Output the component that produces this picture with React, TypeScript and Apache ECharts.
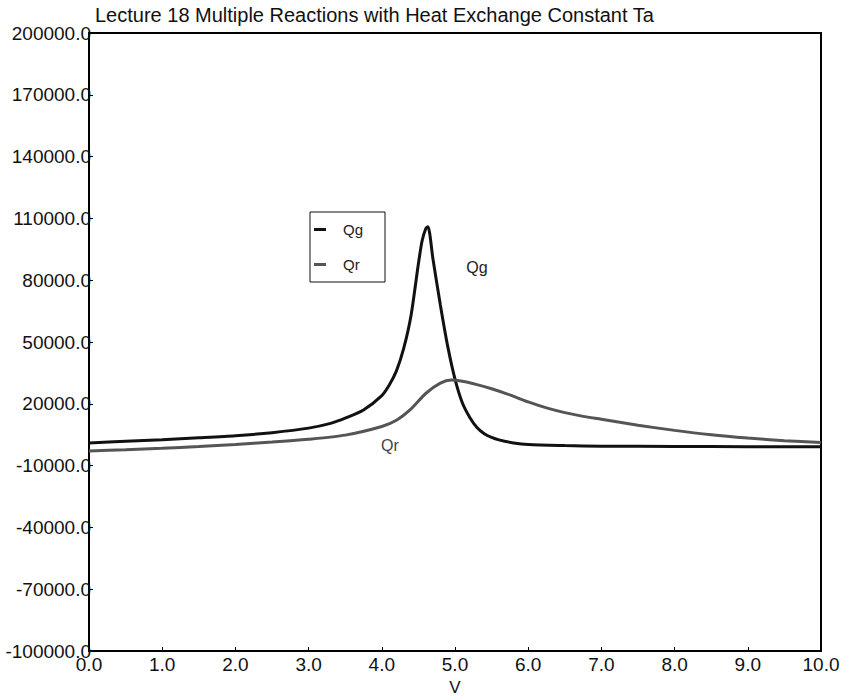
import React, { useEffect, useRef } from "react";
import * as echarts from "echarts";

const titleText = "Lecture 18 Multiple Reactions with Heat Exchange Constant Ta";
const xTicks = [0, 1, 2, 3, 4, 5, 6, 7, 8, 9, 10];
const yTicks = [-100000, -70000, -40000, -10000, 20000, 50000, 80000, 110000, 140000, 170000, 200000];

const qgV = [0, 0.5, 1.0, 1.5, 2.0, 2.5, 3.0, 3.3, 3.5, 3.75, 4.0, 4.1, 4.2, 4.3, 4.4, 4.5, 4.55, 4.6, 4.63, 4.7, 4.8, 4.9, 5.0, 5.1, 5.2, 5.3, 5.4, 5.5, 5.6, 5.8, 6.0, 6.5, 7.0, 8.0, 9.0, 10.0];
const qgVal = [1000, 1800, 2600, 3500, 4500, 6000, 8200, 10500, 13000, 17000, 24000, 29000, 36000, 47000, 63000, 88000, 99000, 105000, 106000, 90000, 68000, 48000, 32000, 20500, 13500, 8500, 5500, 3700, 2500, 1000, 200, -300, -600, -700, -800, -800];

const qrV = [0, 0.5, 1.0, 1.5, 2.0, 2.5, 3.0, 3.5, 4.0, 4.2, 4.4, 4.6, 4.8, 4.95, 5.1, 5.3, 5.5, 5.75, 6.0, 6.25, 6.5, 6.75, 7.0, 7.5, 8.0, 8.5, 9.0, 9.5, 10.0];
const qrVal = [-2900, -2300, -1600, -700, 300, 1400, 2800, 4800, 9000, 12000, 17500, 25000, 30000, 31500, 30900, 29300, 27300, 24300, 20900, 18000, 15700, 13900, 12500, 9600, 7100, 5000, 3400, 2100, 1200];

const qgLabelAt = [5.3, 86000];
const qrLabelAt = [4.11, 0];

const FONT = "Liberation Sans, Arial, sans-serif";

export default function App() {
  const ref = useRef<HTMLDivElement>(null);
  useEffect(() => {
    if (!ref.current) return;
    const chart = echarts.init(ref.current, null, { renderer: "svg" });
    const lbl = (name: string, at: number[], color: string) => ({
      symbol: "circle",
      symbolSize: 0,
      label: { show: true, formatter: name, position: "inside", color, fontSize: 16, fontFamily: FONT },
      itemStyle: { color: "transparent" },
      data: [{ coord: at, value: name }],
    });
    chart.setOption({
      animation: false,
      backgroundColor: "#fff",
      title: {
        text: titleText,
        left: 90,
        top: 0,
        textStyle: { fontSize: 20, fontWeight: "normal", color: "#111", fontFamily: FONT },
      },
      legend: {
        left: 310,
        top: 212,
        orient: "vertical",
        borderColor: "#111",
        borderWidth: 1,
        padding: [10, 22, 10, 4],
        itemWidth: 12,
        itemHeight: 3,
        itemGap: 20,
        icon: "rect",
        textStyle: { fontSize: 15, color: "#222", fontFamily: FONT, padding: [0, 0, 0, 12] },
        data: ["Qg", "Qr"],
      },
      grid: {
        left: 89,
        right: 30,
        top: 33,
        bottom: 49,
        show: true,
        borderColor: "#000",
        borderWidth: 2,
        backgroundColor: "transparent",
        containLabel: false,
        outerBoundsMode: "none",
      },
      xAxis: {
        type: "value",
        min: 0,
        max: 10,
        name: "V",
        nameLocation: "middle",
        nameGap: 27,
        nameTextStyle: { fontSize: 17, color: "#111", fontFamily: FONT },
        axisLine: { show: true, onZero: false, lineStyle: { color: "#000", width: 2 } },
        axisTick: { show: true, inside: true, length: 4, customValues: xTicks, lineStyle: { color: "#000" } },
        axisLabel: {
          customValues: xTicks,
          formatter: (v: number) => v.toFixed(1),
          fontSize: 19,
          color: "#111",
          fontFamily: FONT,
          margin: 4,
        },
        splitLine: { show: false },
      },
      yAxis: {
        type: "value",
        min: -100000,
        max: 200000,
        axisLine: { show: true, onZero: false, lineStyle: { color: "#000", width: 2 } },
        axisTick: { show: true, inside: true, length: 4, customValues: yTicks, lineStyle: { color: "#000" } },
        axisLabel: {
          customValues: yTicks,
          formatter: (v: number) => v.toFixed(1),
          fontSize: 19,
          color: "#111",
          fontFamily: FONT,
          margin: -2,
        },
        splitLine: { show: false },
      },
      series: [
        {
          name: "Qg",
          type: "line",
          data: qgV.map((v, i) => [v, qgVal[i]]),
          showSymbol: false,
          smooth: 0.25,
          lineStyle: { color: "#111", width: 3 },
          itemStyle: { color: "#111" },
          markPoint: lbl("Qg", qgLabelAt, "#222"),
        },
        {
          name: "Qr",
          type: "line",
          data: qrV.map((v, i) => [v, qrVal[i]]),
          showSymbol: false,
          smooth: 0.25,
          lineStyle: { color: "#555", width: 3 },
          itemStyle: { color: "#555" },
          markPoint: lbl("Qr", qrLabelAt, "#444"),
        },
      ],
    });
    return () => chart.dispose();
  }, []);
  return <div ref={ref} style={{ width: 851, height: 700, position: "absolute", left: 0, top: 0 }} />;
}
